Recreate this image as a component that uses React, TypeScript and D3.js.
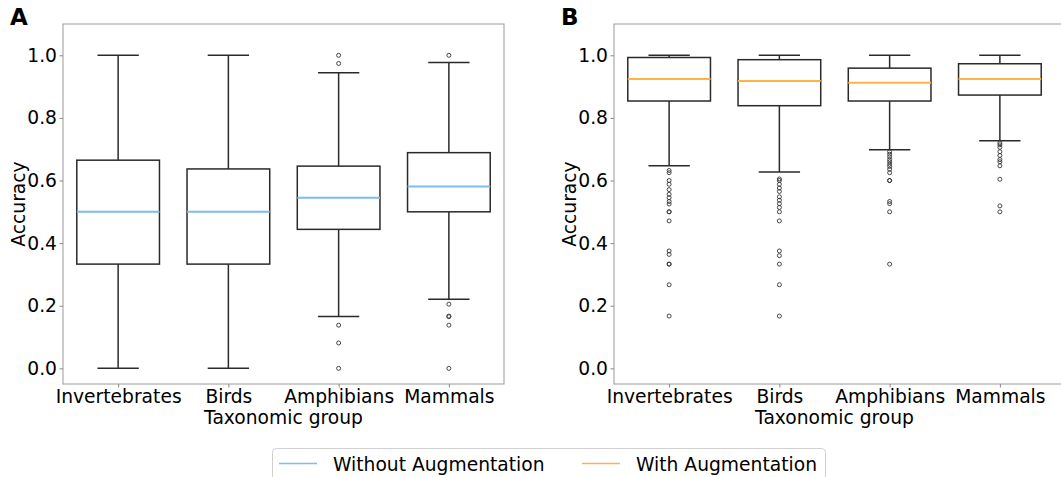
import React, { useEffect, useRef } from 'react';
import * as d3 from 'd3';

// Taxonomic groups (x categories)
const categories = ['Invertebrates', 'Birds', 'Amphibians', 'Mammals'];
const yTicks = [0, 0.2, 0.4, 0.6, 0.8, 1.0];

// Panel A: without augmentation
const aWhiskerLo = [0, 0, 0.166, 0.221];
const aQ1 = [0.333, 0.333, 0.444, 0.5];
const aMedian = [0.5, 0.5, 0.545, 0.581];
const aQ3 = [0.665, 0.637, 0.646, 0.689];
const aWhiskerHi = [1.0, 1.0, 0.944, 0.977];
const aOutliers = [
  [],
  [],
  [1.0, 0.974, 0.138, 0.081, 0],
  [1.0, 0.205, 0.167, 0.165, 0.138, 0],
];

// Panel B: with augmentation
const bWhiskerLo = [0.647, 0.627, 0.698, 0.727];
const bQ1 = [0.854, 0.839, 0.854, 0.873];
const bMedian = [0.924, 0.918, 0.912, 0.924];
const bQ3 = [0.993, 0.986, 0.959, 0.973];
const bWhiskerHi = [1.0, 1.0, 1.0, 1.0];
const bOutliers = [
  [0.632, 0.625, 0.6, 0.588, 0.571, 0.556, 0.545, 0.533, 0.525, 0.5, 0.5, 0.471, 0.375, 0.364, 0.333, 0.333, 0.267, 0.167],
  [0.605, 0.6, 0.588, 0.576, 0.565, 0.548, 0.537, 0.526, 0.514, 0.5, 0.471, 0.375, 0.36, 0.333, 0.267, 0.167],
  [0.692, 0.684, 0.676, 0.667, 0.66, 0.652, 0.645, 0.636, 0.625, 0.6, 0.6, 0.533, 0.526, 0.5, 0.333],
  [0.72, 0.714, 0.706, 0.692, 0.68, 0.667, 0.66, 0.647, 0.604, 0.519, 0.5],
];

const legendLabels = ['Without Augmentation', 'With Augmentation'];
const BLUE = '#7dbde6';
const ORANGE = '#ffb347';
const FONT = 'DejaVu Sans, sans-serif';
const FS = '18.7px';

const App: React.FC = () => {
  const svgRef = useRef<SVGSVGElement>(null);

  useEffect(() => {
    if (!svgRef.current) return;
    const svg = d3.select(svgRef.current);
    svg.selectAll('*').remove();

    const top = 24;
    const bottom = 384;
    const y = d3.scaleLinear().domain([-0.05, 1.1]).range([bottom, top]);

    const panels = [
      { letter: 'A', left: 63, right: 504, frameRight: 504, lx: 10, lo: aWhiskerLo, q1: aQ1, med: aMedian, q3: aQ3, hi: aWhiskerHi, out: aOutliers, color: BLUE },
      { letter: 'B', left: 614, right: 1055, frameRight: 1063, lx: 561, lo: bWhiskerLo, q1: bQ1, med: bMedian, q3: bQ3, hi: bWhiskerHi, out: bOutliers, color: ORANGE },
    ];

    panels.forEach(p => {
      const x = d3.scaleLinear().domain([0.5, 4.5]).range([p.left, p.right]);
      const g = svg.append('g');
      const unit = x(2) - x(1);
      const boxHalf = unit * 0.375;
      const capHalf = boxHalf / 2;

      // frame
      g.append('rect')
        .attr('x', p.left)
        .attr('y', top)
        .attr('width', p.frameRight - p.left)
        .attr('height', bottom - top)
        .style('fill', 'none')
        .style('stroke', '#999')
        .style('stroke-width', 1);

      // y axis
      const yAxis = g.append('g')
        .attr('transform', `translate(${p.left},0)`)
        .call(d3.axisLeft(y).tickValues(yTicks).tickFormat(d3.format('.1f')).tickSize(3.5).tickPadding(2.5));
      yAxis.select('.domain').remove();
      yAxis.selectAll('line').style('stroke', '#888');
      yAxis.selectAll('text').style('font-size', FS).style('font-family', FONT).style('fill', '#000');

      // x axis
      const xAxis = g.append('g')
        .attr('transform', `translate(0,${bottom})`)
        .call(d3.axisBottom(x).tickValues([1, 2, 3, 4]).tickFormat((d: any) => categories[d - 1]).tickSize(3.5).tickPadding(2.5));
      xAxis.select('.domain').remove();
      xAxis.selectAll('line').style('stroke', '#888');
      xAxis.selectAll('text').style('font-size', FS).style('font-family', FONT).style('fill', '#000');

      // axis titles
      g.append('text')
        .attr('transform', `translate(${p.left - 45},${(top + bottom) / 2}) rotate(-90)`)
        .attr('text-anchor', 'middle')
        .attr('dy', '0.35em')
        .style('font-size', FS)
        .style('font-family', FONT)
        .style('fill', '#000')
        .text('Accuracy');

      g.append('text')
        .attr('x', (p.left + p.right) / 2)
        .attr('y', 424)
        .attr('text-anchor', 'middle')
        .style('font-size', FS)
        .style('font-family', FONT)
        .style('fill', '#000')
        .text('Taxonomic group');

      g.append('text')
        .attr('x', p.lx)
        .attr('y', 25)
        .style('font-size', '23px')
        .style('font-weight', 'bold')
        .style('font-family', FONT)
        .text(p.letter);

      // boxes
      categories.forEach((_, i) => {
        const cx = x(i + 1);
        const stroke = '#2a2a2a';
        // whiskers
        g.append('line').attr('x1', cx).attr('x2', cx).attr('y1', y(p.lo[i])).attr('y2', y(p.q1[i]))
          .style('stroke', stroke).style('stroke-width', 1.5);
        g.append('line').attr('x1', cx).attr('x2', cx).attr('y1', y(p.q3[i])).attr('y2', y(p.hi[i]))
          .style('stroke', stroke).style('stroke-width', 1.5);
        // caps
        [p.lo[i], p.hi[i]].forEach(v => {
          g.append('line').attr('x1', cx - capHalf).attr('x2', cx + capHalf).attr('y1', y(v)).attr('y2', y(v))
            .style('stroke', stroke).style('stroke-width', 1.5);
        });
        // box
        g.append('rect')
          .attr('x', cx - boxHalf)
          .attr('y', y(p.q3[i]))
          .attr('width', boxHalf * 2)
          .attr('height', y(p.q1[i]) - y(p.q3[i]))
          .style('fill', 'none')
          .style('stroke', stroke)
          .style('stroke-width', 1.5);
        // median
        g.append('line').attr('x1', cx - boxHalf).attr('x2', cx + boxHalf).attr('y1', y(p.med[i])).attr('y2', y(p.med[i]))
          .style('stroke', p.color).style('stroke-width', 2);
        // outliers
        g.selectAll(null)
          .data(p.out[i])
          .enter().append('circle')
          .attr('cx', cx)
          .attr('cy', d => y(d))
          .attr('r', 2)
          .style('fill', 'none')
          .style('stroke', '#333')
          .style('stroke-width', 0.9);
      });
    });

    // legend
    const legend = svg.append('g');
    legend.append('rect')
      .attr('x', 272.5)
      .attr('y', 448.5)
      .attr('width', 553)
      .attr('height', 40)
      .attr('rx', 4)
      .style('fill', '#fff')
      .style('stroke', '#d0d0d0')
      .style('stroke-width', 1);

    const items = [
      { x: 279, label: legendLabels[0], color: BLUE },
      { x: 582, label: legendLabels[1], color: ORANGE },
    ];
    items.forEach(it => {
      legend.append('line')
        .attr('x1', it.x).attr('x2', it.x + 38)
        .attr('y1', 463.5).attr('y2', 463.5)
        .style('stroke', it.color)
        .style('stroke-width', 1.6);
      legend.append('text')
        .attr('x', it.x + 54)
        .attr('y', 464)
        .attr('dy', '0.35em')
        .style('font-size', '18.7px')
        .style('font-family', FONT)
        .style('fill', '#000')
        .text(it.label);
    });
  }, []);

  return (
    <div style={{ position: 'absolute', left: 0, top: 0 }}>
      <svg ref={svgRef} width={1061} height={477} style={{ display: 'block', background: '#fff' }} />
    </div>
  );
};

export default App;
